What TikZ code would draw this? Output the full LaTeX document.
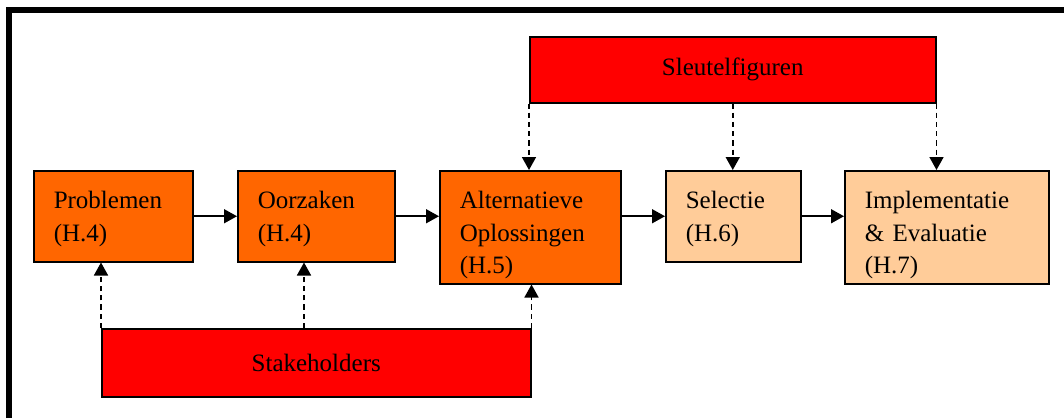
\documentclass[tikz,border=0pt]{standalone}
\usepackage{fontspec}
\setmainfont{Liberation Serif}
\usepackage{tikz}
\usetikzlibrary{arrows.meta}
\definecolor{stageorange}{HTML}{FF6600}
\definecolor{stagepeach}{HTML}{FFCC99}
\definecolor{actorred}{HTML}{FF0000}
\tikzstyle{stage} = [
    rectangle,
    draw=black,
    line width=0.75pt,
    align=left,
    inner xsep=10pt,
    inner ysep=10pt,
    text height=9pt,
    anchor=north west,
    font=\fontsize{12.5}{16.3}\selectfont
]
\tikzstyle{early} = [
    stage,
    fill=stageorange
]
\tikzstyle{late} = [
    stage,
    fill=stagepeach
]
\tikzstyle{actor} = [
    rectangle,
    draw=black,
    line width=0.75pt,
    text centered,
    fill=actorred,
    anchor=north west,
    font=\fontsize{12.5}{16.3}\selectfont
]
\tikzstyle{arrow} = [
    line width=0.8pt,
    ->
]
\tikzstyle{link} = [
    line width=0.8pt,
    dash pattern=on 2.6pt off 2pt,
    ->
]

\begin{document}
\begin{tikzpicture}[x=0.5pt, y=-0.5pt, >={Triangle[length=6.5pt,width=7pt]}]
        \useasboundingbox (0,0) rectangle (1064,418);
        \draw[line width=3pt, line join=miter] (8.5,418) -- (8.5,10) -- (1064,10);

        \node (prob) [early, text width=59.5pt, text depth=16.5pt] at (33,170) {Problemen\\(H.4)};
        \node (oorz) [early, text width=58.5pt, text depth=16.5pt] at (237,170) {Oorzaken\\(H.4)};
        \node (alt) [early, text width=70.5pt, text depth=27.5pt] at (439,170) {Alternatieve\\Oplossingen\\(H.5)};
        \node (sel) [late, text width=47.5pt, text depth=16.5pt] at (665,170) {Selectie\\(H.6)};
        \node (impl) [late, text width=82pt, text depth=27.5pt] at (844,170) {Implementatie\\\& Evaluatie\\(H.7)};

        \node (sleutel) [actor, minimum width=203pt, minimum height=33pt] at (529,36) {Sleutelfiguren};
        \node (stake) [actor, minimum width=214.5pt, minimum height=34pt] at (101,328) {Stakeholders};
        \coordinate (stakemid) at (304,328);

        \draw[arrow] (prob) -- (oorz);
        \draw[arrow] (oorz) -- (oorz -| alt.west);
        \draw[arrow] (alt.east |- sel) -- (sel);
        \draw[arrow] (sel) -- (sel -| impl.west);

        \draw[link] (sleutel.south west) -- (sleutel.south west |- alt.north);
        \draw[link] (sleutel.south) -- (sleutel.south |- sel.north);
        \draw[link] (sleutel.south east) -- (sleutel.south east |- impl.north);

        \draw[link] (stake.north west) -- (stake.north west |- prob.south);
        \draw[link] (stakemid) -- (stakemid |- oorz.south);
        \draw[link] (stake.north east) -- (stake.north east |- alt.south);
    \end{tikzpicture}
\end{document}
